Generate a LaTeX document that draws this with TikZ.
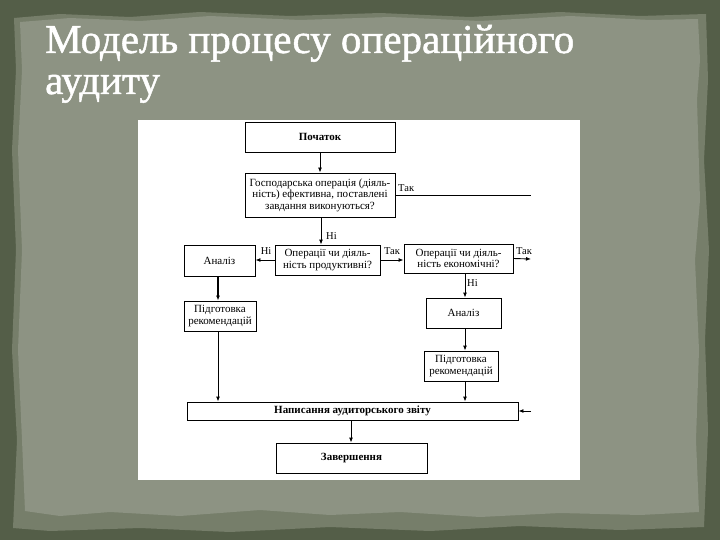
\documentclass[tikz,border=0pt]{standalone}
\usepackage{fontspec}
\setmainfont{Liberation Serif}
\newfontfamily\titlefont[FakeBold=1.2]{Liberation Serif}
\usetikzlibrary{arrows.meta}
\definecolor{bordercol}{RGB}{84,94,72}
\definecolor{papercol}{RGB}{141,147,131}
\definecolor{paperedge}{RGB}{118,126,106}
\begin{document}
\begin{tikzpicture}[x=1pt,y=-1pt,
  box/.style={draw, line width=0.9pt, fill=white, inner sep=0pt, align=center,
    font=\fontsize{11}{11.5}\selectfont},
  arr/.style={-{Latex[length=5pt,width=4pt]}, line width=0.9pt},
  plain/.style={line width=0.9pt},
  lbl/.style={font=\fontsize{10.5}{11}\selectfont, inner sep=1pt},
  ttl/.style={text=white, font=\titlefont\fontsize{41}{43}\selectfont, inner sep=0pt, anchor=base west, xscale=1.0}]
% background
\useasboundingbox (0,0) rectangle (720,540);
\fill[bordercol] (0,0) rectangle (720,540);
\fill[paperedge] (14,18) -- (60,14) -- (130,17) -- (200,12) -- (290,16) -- (380,13) -- (470,17) -- (560,12) -- (640,16) -- (706,14)
  -- (708,80) -- (704,160) -- (709,250) -- (705,340) -- (708,430) -- (704,527)
  -- (620,530) -- (520,526) -- (430,531) -- (330,527) -- (230,532) -- (140,528) -- (50,531) -- (13,528)
  -- (17,440) -- (12,350) -- (16,250) -- (12,150) -- (16,70) -- cycle;
\fill[papercol] (20,22) -- (70,18) -- (140,21) -- (210,16) -- (300,20) -- (390,17) -- (480,21) -- (570,16) -- (650,20) -- (698,19)
  -- (700,60) -- (697,100) -- (700,200) -- (695,260) -- (699,350) -- (696,440) -- (699,512)
  -- (640,515) -- (560,513) -- (480,517) -- (400,512) -- (330,515) -- (260,510) -- (180,516) -- (110,512) -- (60,516) -- (25,511)
  -- (22,440) -- (18,350) -- (22,250) -- (18,150) -- (22,70) -- cycle;
% title
\node[ttl] (t1) at (45,53) {Модель процесу операційного};
\node[ttl] (t2) at (45,94) {аудиту};
% white panel
\fill[white] (138,120) rectangle (580,480);
% boxes
\node[box, minimum width=150, minimum height=30] (start) at (320,137) {\textbf{Початок}};
\node[box, minimum width=150, minimum height=44] (q1) at (320,195) {Господарська операція (діяль-\\ність) ефективна, поставлені\\завдання виконуються?};
\node[box, minimum width=105, minimum height=30] (q2) at (327.5,260) {Операції чи діяль-\\ність продуктивні?};
\node[box, minimum width=71, minimum height=31] (an1) at (219.5,260.5) {Аналіз};
\node[box, minimum width=109, minimum height=29] (q3) at (458.5,258.5) {Операції чи діяль-\\ність економічні?};
\node[box, minimum width=75, minimum height=30] (an2) at (463.5,313) {Аналіз};
\node[box, minimum width=74, minimum height=30] (pr2) at (461,366) {Підготовка\\рекомендацій};
\node[box, minimum width=72, minimum height=30] (pr1) at (220,316) {Підготовка\\рекомендацій};
\node[box, minimum width=331, minimum height=18] (rep) at (352.5,411) {\textbf{Написання аудиторського звіту}};
\node[box, minimum width=151, minimum height=30] (end) at (351.5,458) {\textbf{Завершення}};
% free ends
\coordinate (o1) at (531,195);
\coordinate (o3) at (531,259);
\coordinate (i4) at (531,411);
% connectors
\draw[arr] (start.south) -- (q1.north);
\draw[arr] (q1.south -| 321,0) -- (q2.north -| 321,0);
\draw[plain] (q1.east) -- (o1);
\draw[arr] (q2.west) -- (an1.east |- q2.west);
\draw[arr] (q2.east) -- (q3.west |- q2.east);
\draw[arr] (q3.east) -- (o3);
\draw[arr] (q3.south -| 465,0) -- (an2.north -| 465,0);
\draw[arr] (an2.south -| 465,0) -- (pr2.north -| 465,0);
\draw[arr] (pr2.south -| 465,0) -- (rep.north -| 465,0);
\draw[arr, line width=1.4pt] (an1.south -| 218,0) -- (pr1.north -| 218,0);
\draw[arr] (pr1.south -| 218,0) -- (rep.north -| 218,0);
\draw[arr] (i4) -- (rep.east);
\draw[arr] (rep.south -| 351,0) -- (end.north -| 351,0);
% labels
\node[lbl, anchor=west] (l1) at (397,188) {Так};
\node[lbl, anchor=west] (l2) at (325,236) {Ні};
\node[lbl] (l3) at (266,251) {Ні};
\node[lbl] (l4) at (392,251) {Так};
\node[lbl] (l5) at (524,251) {Так};
\node[lbl, anchor=west] (l6) at (466,283) {Ні};
\end{tikzpicture}
\end{document}
